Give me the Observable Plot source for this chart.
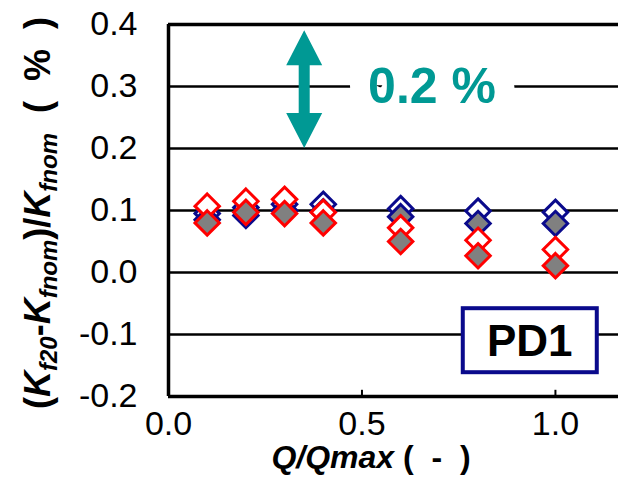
<!DOCTYPE html>
<html>
<head>
<meta charset="utf-8">
<script src="https://cdn.jsdelivr.net/npm/d3@7"></script>
<script src="https://cdn.jsdelivr.net/npm/@observablehq/plot@0.6"></script>
<style>
  body { margin: 0; background: #fff; }
  svg { display: block; }
</style>
</head>
<body>
<div id="chart"></div>
<script>
// Flow ratio Q/Qmax at which the meter factor was measured
const flowRatio = [0.1, 0.2, 0.3, 0.4, 0.6, 0.8, 1.0];

// Relative deviation (Kf20 - Kfnom)/Kfnom in %
const blueOpen   = [0.095, 0.105, 0.110, 0.110, 0.103, 0.099, 0.097];
const blueFilled = [0.085, 0.092, 0.100, 0.098, 0.090, 0.079, 0.079];
const redOpen    = [0.107, 0.115, 0.118, 0.097, 0.072, 0.052, 0.037];
const redFilled  = [0.080, 0.097, 0.095, 0.080, 0.050, 0.027, 0.011];

const xTicks = [0, 0.5, 1.0];
const yTicks = [-0.2, -0.1, 0.0, 0.1, 0.2, 0.3, 0.4];

// Span annotation (0.2 % band) and meter name
const bandFrom = 0.2, bandTo = 0.39, bandX = 0.352;
const bandLabel = "0.2 %", bandLabelX = 0.681, bandLabelY = 0.3;
const meterName = "PD1", meterX = 0.935, meterY = -0.11;

const NAVY = "#0a0a8c", RED = "#ff0000", GRAY = "#808080", TEAL = "#009994";
const FONT = "'Liberation Sans', Arial, Helvetica, sans-serif";

// Series drawn in this order so the red markers sit on top
const series = [
  {values: blueOpen,   stroke: NAVY, fill: "#ffffff"},
  {values: blueFilled, stroke: NAVY, fill: GRAY},
  {values: redOpen,    stroke: RED,  fill: "#ffffff"},
  {values: redFilled,  stroke: RED,  fill: GRAY}
];

const dotMarks = series.map(s =>
  Plot.dot(flowRatio.map((q, i) => ({q, v: s.values[i]})), {
    x: "q", y: "v", symbol: "diamond2", r: 11,
    stroke: s.stroke, fill: s.fill, strokeWidth: 3
  })
);

const plot = Plot.plot({
  width: 618,
  height: 486,
  marginLeft: 168,
  marginRight: 0,
  marginTop: 24,
  marginBottom: 90,
  style: {fontFamily: FONT, background: "#fff", color: "#000"},
  x: {domain: [0, 1.163], label: null},
  y: {domain: [-0.2, 0.4], label: null},
  marks: [
    Plot.ruleY(yTicks.filter(d => d > -0.2 && d < 0.4), {stroke: "#000", strokeWidth: 2.5}),
    Plot.ruleY([0.4], {stroke: "#000", strokeWidth: 3.5}),
    Plot.ruleY([-0.2], {stroke: "#000", strokeWidth: 3.5}),
    Plot.ruleX([0], {stroke: "#000", strokeWidth: 3.5}),
    Plot.ruleX(xTicks.slice(1), {y1: -0.2, y2: -0.19, stroke: "#000", strokeWidth: 2}),
    Plot.axisY({ticks: yTicks, tickSize: 0, tickPadding: 31, fontSize: 34,
      tickFormat: d => d.toFixed(1), label: null}),
    Plot.axisX({ticks: xTicks, tickSize: 0, tickPadding: 14, fontSize: 34,
      tickFormat: d => d.toFixed(1), label: null}),
    Plot.text([bandLabel], {x: () => bandLabelX, y: () => bandLabelY, text: d => d,
      fill: TEAL, stroke: "#fff", strokeWidth: 40, paintOrder: "stroke",
      fontSize: 50, fontWeight: "bold", dy: 0, lineAnchor: "middle"}),
    ...dotMarks
  ]
});

document.getElementById("chart").append(plot);

// Extra annotations placed with the plot's own scales
const sx = plot.scale("x").apply, sy = plot.scale("y").apply;
const svg = d3.select(plot);

// double-headed arrow spanning the 0.2 % band
{
  const cx = sx(bandX), ty = sy(bandTo), by = sy(bandFrom);
  const h = 35, hw = 18, sw = 5.5;
  const p = d3.path();
  p.moveTo(cx, ty);
  p.lineTo(cx + hw, ty + h); p.lineTo(cx + sw, ty + h);
  p.lineTo(cx + sw, by - h); p.lineTo(cx + hw, by - h);
  p.lineTo(cx, by);
  p.lineTo(cx - hw, by - h); p.lineTo(cx - sw, by - h);
  p.lineTo(cx - sw, ty + h); p.lineTo(cx - hw, ty + h);
  p.closePath();
  svg.append("path").attr("d", p.toString()).attr("fill", TEAL);
}

// boxed meter name
{
  const cx = sx(meterX), cy = sy(meterY);
  const g = svg.append("g");
  g.append("rect").attr("x", cx - 67).attr("y", cy - 32).attr("width", 134).attr("height", 64)
    .attr("fill", "#fff").attr("stroke", NAVY).attr("stroke-width", 4);
  g.append("text").attr("x", cx).attr("y", cy).attr("dy", "0.36em")
    .attr("text-anchor", "middle").attr("font-family", FONT).attr("font-weight", "bold")
    .attr("font-size", 44).attr("fill", "#000").text(meterName);
}

// x axis title
{
  const t = svg.append("text").attr("x", 371).attr("y", 468).attr("text-anchor", "middle")
    .attr("font-family", FONT).attr("font-weight", "bold").attr("font-size", 32).attr("fill", "#000");
  t.append("tspan").attr("font-style", "italic").text("Q/Qmax");
  t.append("tspan").style("white-space", "pre").text(" (  -  )");
}

// y axis title with subscripts
{
  const t = svg.append("text").attr("transform", "translate(50,213) rotate(-90)")
    .attr("text-anchor", "middle").attr("font-family", FONT).attr("font-weight", "bold")
    .attr("font-size", 36).attr("fill", "#000").style("white-space", "pre");
  const parts = [
    ["(", false, false], ["K", true, false], ["f20", true, true],
    ["-", false, false], ["K", true, false], ["fnom", true, true],
    [")/", false, false], ["K", true, false], ["fnom", true, true],
    ["  (  %  )", false, false]
  ];
  let prevSub = false;
  for (const [s, it, sub] of parts) {
    const ts = t.append("tspan").text(s);
    if (it) ts.attr("font-style", "italic");
    if (sub) ts.attr("font-size", 24).attr("dy", 7);
    else if (prevSub) ts.attr("dy", -7);
    prevSub = sub;
  }
}
</script>
</body>
</html>
